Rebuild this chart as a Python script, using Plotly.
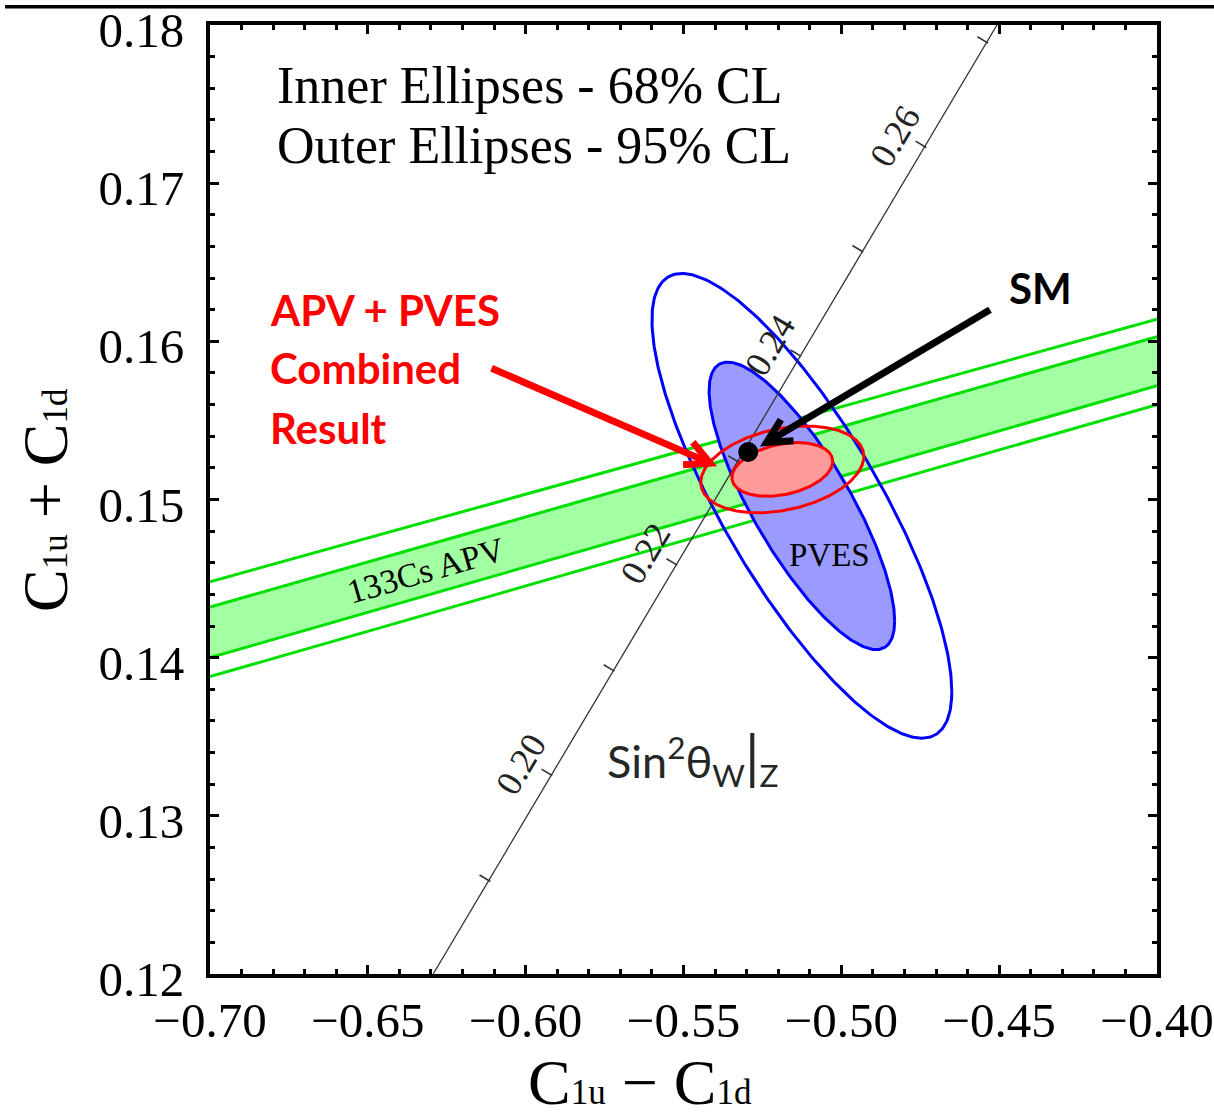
import numpy as np
import plotly.graph_objects as go

# ---- axis window and tick labels ----
X_RANGE = [-0.70, -0.40]
Y_RANGE = [0.12, 0.18]
x_tick_vals = [-0.70, -0.65, -0.60, -0.55, -0.50, -0.45, -0.40]
x_tick_text = ["\u22120.70", "\u22120.65", "\u22120.60", "\u22120.55", "\u22120.50", "\u22120.45", "\u22120.40"]
y_tick_vals = [0.12, 0.13, 0.14, 0.15, 0.16, 0.17, 0.18]
y_tick_text = ["0.12", "0.13", "0.14", "0.15", "0.16", "0.17", "0.18"]

# ---- 133Cs APV band: edge values at the two ends of the x window ----
apv_x = [-0.70, -0.40]
apv_68_lo = [0.1400, 0.1572]
apv_68_hi = [0.1432, 0.1603]
apv_95_lo = [0.1388, 0.1560]
apv_95_hi = [0.1448, 0.1614]

# ---- error ellipses: centre, sigmas, correlation ----
pves_center = (-0.5125, 0.1496)
pves_sigma = (0.0194, 0.0060)
pves_rho = -0.80

comb_center = (-0.5187, 0.1519)
comb_sigma = (0.01055, 0.00112)
comb_rho = 0.30

cl_labels = ["68%", "95%"]
cl_radius = [1.515, 2.448]   # sqrt(chi2) for 2 d.o.f.

# ---- Standard Model point ----
sm_point = (-0.5295, 0.1530)

# ---- sin^2(theta_W) line with its scale marks ----
sin2_line_x = [-0.6293, -0.4507]
sin2_line_y = [0.1200, 0.1800]
sin2_ticks = [0.19, 0.20, 0.21, 0.22, 0.23, 0.24, 0.25, 0.26, 0.27]
sin2_tick_x = [-0.6116, -0.5920, -0.5723, -0.5524, -0.5328, -0.5131, -0.4935, -0.4735, -0.4539]
sin2_tick_y = [0.1259, 0.1326, 0.1392, 0.1459, 0.1524, 0.1591, 0.1657, 0.1723, 0.1789]
sin2_labelled = ["0.20", "0.22", "0.24", "0.26"]

# ---- arrows (tail, tip) ----
sm_arrow = ((-0.4529, 0.1620), (-0.5237, 0.1536))
comb_arrow = ((-0.6108, 0.1583), (-0.5416, 0.1523))

# ---- figure geometry ----
W, H = 1214, 1119
M = dict(l=210, r=57, t=25, b=145)
PW = W - M["l"] - M["r"]
PH = H - M["t"] - M["b"]
SX = PW / (X_RANGE[1] - X_RANGE[0])   # px per unit x
SY = PH / (Y_RANGE[1] - Y_RANGE[0])   # px per unit y

SERIF = "Liberation Serif, Times New Roman, serif"
SANS = "Lato, Open Sans, sans-serif"

BLUE = "#0000ff"
BLUE_FILL = "#9a9aff"
RED = "#ff0000"
RED_FILL = "#ff9a9a"
GREEN = "#00e000"
GREEN_FILL = "#a2ffa2"


def ellipse(center, sigma, rho, r, n=361):
    t = np.linspace(0, 2 * np.pi, n)
    ex = center[0] + r * sigma[0] * np.cos(t)
    ey = center[1] + r * sigma[1] * (rho * np.cos(t) + np.sqrt(1 - rho ** 2) * np.sin(t))
    return ex, ey


fig = go.Figure()

# APV band: shaded 68% region
fig.add_trace(go.Scatter(
    x=apv_x + apv_x[::-1], y=apv_68_lo + apv_68_hi[::-1],
    fill="toself", fillcolor=GREEN_FILL, line=dict(width=0),
    mode="lines", hoverinfo="skip", showlegend=False))
for edge in (apv_68_lo, apv_68_hi, apv_95_lo, apv_95_hi):
    fig.add_trace(go.Scatter(x=apv_x, y=edge, mode="lines",
                             line=dict(color=GREEN, width=3),
                             hoverinfo="skip", showlegend=False))

# PVES ellipses: 95% outline, 68% filled
ox, oy = ellipse(pves_center, pves_sigma, pves_rho, cl_radius[1])
fig.add_trace(go.Scatter(x=ox, y=oy, mode="lines", line=dict(color=BLUE, width=3),
                         hoverinfo="skip", showlegend=False))
ix, iy = ellipse(pves_center, pves_sigma, pves_rho, cl_radius[0])
fig.add_trace(go.Scatter(x=ix, y=iy, mode="lines", fill="toself", fillcolor=BLUE_FILL,
                         line=dict(color=BLUE, width=3),
                         hoverinfo="skip", showlegend=False))

# sin^2 theta_W line
fig.add_trace(go.Scatter(x=sin2_line_x, y=sin2_line_y, mode="lines",
                         line=dict(color="#333333", width=1.3),
                         hoverinfo="skip", showlegend=False))

# scale marks perpendicular to the line (pointing to its upper-left side)
ddx = (sin2_line_x[1] - sin2_line_x[0]) * SX
ddy = (sin2_line_y[1] - sin2_line_y[0]) * SY
dn = np.hypot(ddx, ddy)
ux, uy = ddx / dn, ddy / dn
nx, ny = -uy, ux
mark_x, mark_y = [], []
for tx, ty in zip(sin2_tick_x, sin2_tick_y):
    mark_x += [tx - 1.5 * nx / SX, tx + 11 * nx / SX, None]
    mark_y += [ty - 1.5 * ny / SY, ty + 11 * ny / SY, None]
fig.add_trace(go.Scatter(x=mark_x, y=mark_y, mode="lines",
                         line=dict(color="#333333", width=1.6),
                         hoverinfo="skip", showlegend=False))

# combined ellipses
ox, oy = ellipse(comb_center, comb_sigma, comb_rho, cl_radius[1])
fig.add_trace(go.Scatter(x=ox, y=oy, mode="lines", line=dict(color=RED, width=3),
                         hoverinfo="skip", showlegend=False))
ix, iy = ellipse(comb_center, comb_sigma, comb_rho, cl_radius[0])
fig.add_trace(go.Scatter(x=ix, y=iy, mode="lines", fill="toself", fillcolor=RED_FILL,
                         line=dict(color=RED, width=3),
                         hoverinfo="skip", showlegend=False))

# Standard Model point
fig.add_trace(go.Scatter(x=[sm_point[0]], y=[sm_point[1]], mode="markers",
                         marker=dict(color="black", size=20),
                         hoverinfo="skip", showlegend=False))


def arrow_shapes(tail, tip, color, width, arm_px=27, half_angle=27):
    a = np.arctan2((tip[1] - tail[1]) * SY, (tip[0] - tail[0]) * SX)
    pts = []
    for s in (1, -1):
        b = a + np.pi + s * np.radians(half_angle)
        pts.append((tip[0] + arm_px * np.cos(b) / SX, tip[1] + arm_px * np.sin(b) / SY))
    shaft = dict(type="line", xref="x", yref="y", x0=tail[0], y0=tail[1],
                 x1=tip[0], y1=tip[1], line=dict(color=color, width=width))
    head = dict(type="path", xref="x", yref="y",
                path=f"M {pts[0][0]},{pts[0][1]} L {tip[0]},{tip[1]} L {pts[1][0]},{pts[1][1]}",
                line=dict(color=color, width=width))
    return [shaft, head]


shapes = []
shapes += arrow_shapes(*sm_arrow, color="black", width=7)
shapes += arrow_shapes(*comb_arrow, color=RED, width=7)
# rule across the top of the page
shapes.append(dict(type="line", xref="paper", yref="paper",
                   x0=(5 - M["l"]) / PW, x1=(W - M["l"]) / PW,
                   y0=1 + (M["t"] - 6.7) / PH, y1=1 + (M["t"] - 6.7) / PH,
                   line=dict(color="black", width=3.5)))

annotations = []

# labels on the sin^2 line
line_angle = np.degrees(np.arctan2(ddy, ddx))
for lab in sin2_labelled:
    i = sin2_ticks.index(float(lab))
    annotations.append(dict(x=sin2_tick_x[i], y=sin2_tick_y[i], xref="x", yref="y",
                            text=lab, showarrow=False, textangle=-line_angle,
                            xanchor="center", yanchor="middle",
                            xshift=-30, yshift=11,
                            font=dict(family=SERIF, size=36, color="#222222")))

# APV band label
band_angle = np.degrees(np.arctan2(
    ((apv_68_lo[1] + apv_68_hi[1]) - (apv_68_lo[0] + apv_68_hi[0])) / 2 * SY,
    (apv_x[1] - apv_x[0]) * SX))
annotations.append(dict(x=-0.6316, y=0.1455, xref="x", yref="y", text="133Cs APV",
                        showarrow=False, textangle=-band_angle,
                        xanchor="center", yanchor="middle",
                        font=dict(family=SERIF, size=34, color="black")))

annotations.append(dict(x=-0.5039, y=0.1465, xref="x", yref="y", text="PVES",
                        showarrow=False, xanchor="center", yanchor="middle",
                        font=dict(family=SERIF, size=33, color="black")))

annotations.append(dict(x=-0.5749, y=0.1337, xref="x", yref="y", xanchor="left",
                        yanchor="middle",
                        text="Sin<sup>2</sup>\u03b8<sub>W</sub>"
                             "<span style='font-size:58px'>|</span><sub>Z</sub>",
                        showarrow=False, font=dict(family=SANS, size=45, color="#262626")))

# confidence-level legend
annotations.append(dict(x=-0.6794, y=0.1762, xref="x", yref="y", xanchor="left",
                        yanchor="middle",
                        text="Inner Ellipses - " + cl_labels[0] + " CL", showarrow=False,
                        font=dict(family=SERIF, size=52, color="black")))
annotations.append(dict(x=-0.6794, y=0.1724, xref="x", yref="y", xanchor="left",
                        yanchor="middle",
                        text="Outer Ellipses - " + cl_labels[1] + " CL", showarrow=False,
                        font=dict(family=SERIF, size=52, color="black")))

# combined-result caption
for txt, yy in zip(["APV + PVES", "Combined", "Result"], [0.16201, 0.15834, 0.15455]):
    annotations.append(dict(x=-0.6816, y=yy, xref="x", yref="y", xanchor="left",
                            yanchor="middle", text=txt, showarrow=False,
                            font=dict(family=SANS, size=42, color=RED, weight="bold")))

annotations.append(dict(x=-0.4368, y=0.16337, xref="x", yref="y", text="SM",
                        showarrow=False, xanchor="center", yanchor="middle",
                        font=dict(family=SANS, size=42, color="black", weight="bold")))

# axis titles
sub = "<span style='font-size:35px'>{}</span>"
annotations.append(dict(x=(640 - M["l"]) / PW, y=(PH + M["t"] - 1082) / PH,
                        xref="paper", yref="paper", xanchor="center", yanchor="middle",
                        text="C" + sub.format("1u") + " \u2212 C" + sub.format("1d"),
                        showarrow=False, font=dict(family=SERIF, size=64, color="black")))
annotations.append(dict(x=(45 - M["l"]) / PW, y=(PH + M["t"] - 500) / PH,
                        xref="paper", yref="paper", textangle=-90,
                        xanchor="center", yanchor="middle",
                        text="C" + sub.format("1u") + " + C" + sub.format("1d"),
                        showarrow=False, font=dict(family=SERIF, size=64, color="black")))

axis_common = dict(
    showgrid=False, zeroline=False, showline=True, linewidth=4, linecolor="black",
    mirror="allticks", ticks="inside", ticklen=9, tickwidth=3, tickcolor="black",
    tickfont=dict(family=SERIF, size=49, color="black"),
    automargin=False, ticklabeloverflow="allow",
)

fig.update_layout(
    width=W, height=H, margin=M,
    paper_bgcolor="white", plot_bgcolor="white",
    xaxis=dict(range=X_RANGE, tickmode="array", tickvals=x_tick_vals, ticktext=x_tick_text,
               ticklabelstandoff=0,
               minor=dict(ticks="inside", ticklen=5, tickwidth=3, tickcolor="black",
                          dtick=0.01, tick0=-0.70),
               **axis_common),
    yaxis=dict(range=Y_RANGE, tickmode="array", tickvals=y_tick_vals, ticktext=y_tick_text,
               ticklabelstandoff=12, ticklabelshift=5,
               minor=dict(ticks="inside", ticklen=5, tickwidth=3, tickcolor="black",
                          dtick=0.002, tick0=0.12),
               **axis_common),
    shapes=shapes,
    annotations=annotations,
)

fig.write_html("out.html")
